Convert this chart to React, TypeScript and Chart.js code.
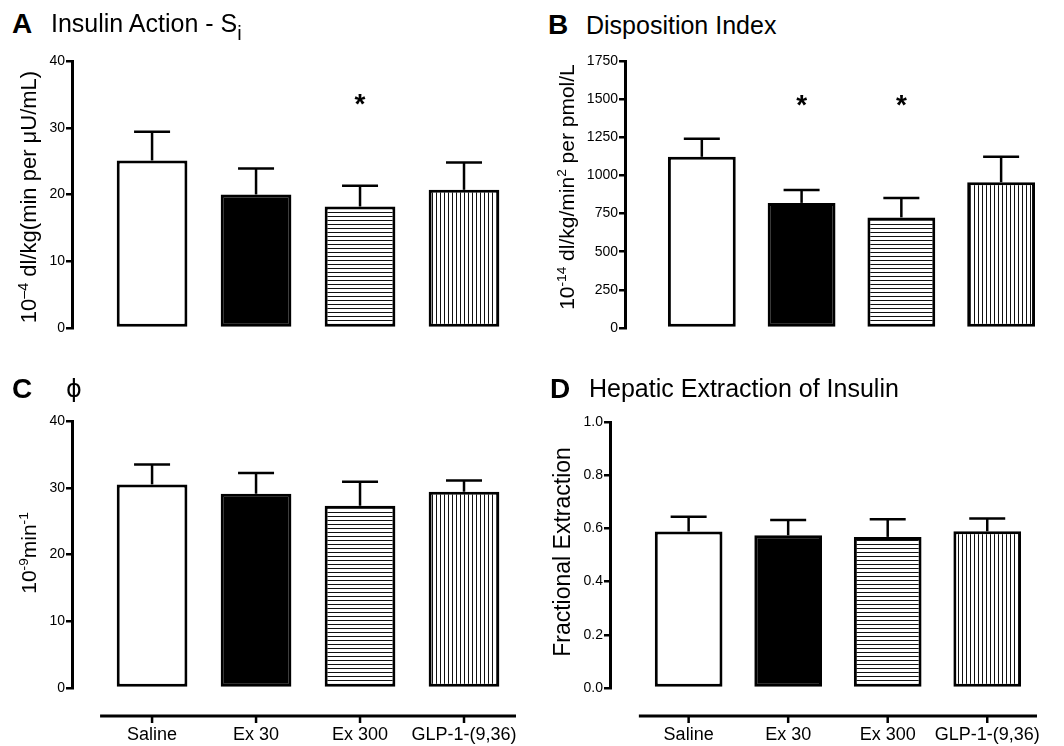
import React, { useEffect, useRef } from 'react';
import { Chart, registerables } from 'chart.js';

Chart.register(...registerables);

const FONT = '"Liberation Sans", Arial, Helvetica, sans-serif';
Chart.defaults.font.family = FONT;
Chart.defaults.color = '#000';

// ---- data ----
const categories = ['Saline', 'Ex 30', 'Ex 300', 'GLP-1-(9,36)'];

const siMean = [25.1, 20.0, 18.2, 20.7];
const siSem = [4.3, 3.9, 3.1, 4.1];
const siStars = [null, null, 34.6, null];

const diMean = [1122, 820, 725, 955];
const diSem = [118, 85, 127, 167];
const diStars = [null, 1510, 1510, null];

const phiMean = [30.5, 29.1, 27.3, 29.4];
const phiSem = [3.0, 3.1, 3.6, 1.7];
const phiStars = [null, null, null, null];

const heMean = [0.588, 0.574, 0.568, 0.589];
const heSem = [0.056, 0.058, 0.066, 0.048];
const heStars = [null, null, null, null];

function makePattern(dir: 'h' | 'v') {
  const c = document.createElement('canvas');
  c.width = 4;
  c.height = 4;
  const g = c.getContext('2d')!;
  g.fillStyle = '#ffffff';
  g.fillRect(0, 0, 4, 4);
  g.fillStyle = '#111111';
  if (dir === 'h') g.fillRect(0, 0, 4, 1);
  else g.fillRect(0, 0, 1, 4);
  const ctx = document.createElement('canvas').getContext('2d')!;
  return ctx.createPattern(c, 'repeat');
}

type PanelProps = {
  left: number;
  top: number;
  width: number;
  height: number;
  yWidth: number;
  padTop: number;
  padRight: number;
  padBottom: number;
  xMin: number;
  yMax: number;
  yStep: number;
  decimals: number;
  means: number[];
  sem: number[];
  stars: (number | null)[];
  showX: boolean;
};

function Panel(p: PanelProps) {
  const ref = useRef<HTMLCanvasElement | null>(null);
  useEffect(() => {
    if (!ref.current) return;
    const decor = {
      id: 'decor',
      afterDatasetsDraw(chart: any) {
        const { ctx, chartArea } = chart;
        const xs = chart.scales.x;
        const ys = chart.scales.y;
        ctx.save();
        ctx.strokeStyle = '#000';
        ctx.fillStyle = '#000';
        p.means.forEach((m, i) => {
          const x = xs.getPixelForValue(i);
          const y0 = ys.getPixelForValue(m);
          const y1 = ys.getPixelForValue(m + p.sem[i]);
          ctx.lineWidth = 2.5;
          ctx.beginPath();
          ctx.moveTo(x, y0);
          ctx.lineTo(x, y1);
          ctx.stroke();
          ctx.beginPath();
          ctx.moveTo(x - 18, y1);
          ctx.lineTo(x + 18, y1);
          ctx.stroke();
        });
        ctx.font = 'bold 28px ' + FONT;
        ctx.textAlign = 'center';
        ctx.textBaseline = 'alphabetic';
        p.stars.forEach((s, i) => {
          if (s == null) return;
          const x = xs.getPixelForValue(i);
          const y = ys.getPixelForValue(s);
          ctx.fillText('*', x, y + 16);
        });
        if (p.showX) {
          const y = chartArea.bottom + 28;
          ctx.lineWidth = 3;
          ctx.beginPath();
          ctx.moveTo(xs.getPixelForValue(-0.5), y);
          ctx.lineTo(xs.getPixelForValue(categories.length - 0.5), y);
          ctx.stroke();
          ctx.lineWidth = 2.5;
          categories.forEach((_, i) => {
            const x = xs.getPixelForValue(i);
            ctx.beginPath();
            ctx.moveTo(x, y);
            ctx.lineTo(x, y + 7);
            ctx.stroke();
          });
        }
        ctx.restore();
      },
    };
    const chart = new Chart(ref.current, {
      type: 'bar',
      data: {
        datasets: [
          {
            data: p.means.map((v, i) => ({ x: i, y: v })),
            backgroundColor: ['#ffffff', '#000000', makePattern('h') as any, makePattern('v') as any],
            borderColor: '#000',
            borderWidth: 3,
            borderSkipped: false,
            categoryPercentage: 0.68,
            barPercentage: 1,
          },
        ],
      },
      options: {
        responsive: false,
        animation: false,
        events: [],
        layout: {
          autoPadding: false,
          padding: { left: 0, top: p.padTop, right: p.padRight, bottom: p.padBottom },
        },
        plugins: { legend: { display: false }, tooltip: { enabled: false }, title: { display: false } },
        scales: {
          x: {
            type: 'linear',
            min: p.xMin,
            max: categories.length - 0.5,
            offset: false,
            display: p.showX,
            afterBuildTicks: (s: any) => {
              s.ticks = categories.map((_, i) => ({ value: i }));
            },
            afterFit: (s: any) => {
              s.height = p.showX ? 58 : 0;
              s.paddingLeft = 0;
              s.paddingRight = 0;
              s.paddingTop = 0;
              s.paddingBottom = 0;
            },
            ticks: {
              autoSkip: false,
              maxRotation: 0,
              minRotation: 0,
              padding: 36,
              color: '#000',
              font: { size: 18, family: FONT },
              callback: (_v: any, idx: number) => categories[idx],
            },
            grid: { display: false, drawTicks: false, offset: false },
            border: { display: false },
          },
          y: {
            type: 'linear',
            min: 0,
            max: p.yMax,
            afterFit: (s: any) => {
              s.width = p.yWidth;
              s.paddingTop = 0;
              s.paddingBottom = 0;
            },
            ticks: {
              stepSize: p.yStep,
              padding: 1,
              color: '#000',
              font: { size: 14, family: FONT },
              callback: (v: any) => Number(v).toFixed(p.decimals),
            },
            grid: { drawOnChartArea: false, drawTicks: true, tickLength: 6, lineWidth: 2.5, color: '#000' },
            border: { display: true, width: 3, color: '#000' },
          },
        },
      } as any,
      plugins: [decor],
    });
    return () => chart.destroy();
  }, []);
  return (
    <canvas
      ref={ref}
      width={p.width}
      height={p.height}
      style={{ position: 'absolute', left: p.left, top: p.top, width: p.width, height: p.height, display: 'block' }}
    />
  );
}

function Txt(props: { left: number; baseline: number; size: number; bold?: boolean; family?: string; children: any }) {
  const { left, baseline, size, bold, family, children } = props;
  return (
    <div
      style={{
        position: 'absolute',
        left,
        top: baseline - 0.8465 * size,
        fontSize: size,
        lineHeight: `${size}px`,
        fontWeight: bold ? 700 : 400,
        fontFamily: family ?? FONT,
        whiteSpace: 'nowrap',
        color: '#000',
      }}
    >
      {children}
    </div>
  );
}

function YTitle(props: { cx: number; cy: number; size: number; children: any }) {
  return (
    <div
      style={{
        position: 'absolute',
        left: props.cx,
        top: props.cy,
        transform: 'translate(-50%, -50%) rotate(-90deg)',
        fontSize: props.size,
        lineHeight: 1,
        fontFamily: FONT,
        whiteSpace: 'nowrap',
        color: '#000',
      }}
    >
      {props.children}
    </div>
  );
}

const supStyle = { fontSize: '0.65em', verticalAlign: '0.55em', lineHeight: 0 } as const;

export default function App() {
  return (
    <div style={{ position: 'absolute', left: 0, top: 0, width: 1064, height: 746, background: '#fff', overflow: 'hidden' }}>
      <Panel left={0} top={40} width={530} height={300} yWidth={72} padTop={21} padRight={14} padBottom={12}
        xMin={-0.77} yMax={40} yStep={10} decimals={0} means={siMean} sem={siSem} stars={siStars} showX={false} />
      <Panel left={530} top={40} width={534} height={300} yWidth={95} padTop={21} padRight={13} padBottom={12}
        xMin={-0.77} yMax={1750} yStep={250} decimals={0} means={diMean} sem={diSem} stars={diStars} showX={false} />
      <Panel left={0} top={400} width={530} height={346} yWidth={72} padTop={21} padRight={14} padBottom={0}
        xMin={-0.77} yMax={40} yStep={10} decimals={0} means={phiMean} sem={phiSem} stars={phiStars} showX={true} />
      <Panel left={530} top={400} width={534} height={346} yWidth={80} padTop={22} padRight={27} padBottom={0}
        xMin={-0.79} yMax={1} yStep={0.2} decimals={1} means={heMean} sem={heSem} stars={heStars} showX={true} />

      <Txt left={12} baseline={34} size={28} bold>A</Txt>
      <Txt left={51} baseline={32.5} size={25}>
        Insulin Action - S<span style={{ fontSize: '0.8em', verticalAlign: '-0.4em', lineHeight: 0 }}>i</span>
      </Txt>
      <Txt left={548} baseline={34.5} size={28} bold>B</Txt>
      <Txt left={586} baseline={34.5} size={25}>Disposition Index</Txt>
      <Txt left={12} baseline={399} size={28} bold>C</Txt>
      <Txt left={66} baseline={397} size={24} family={'"DejaVu Sans", sans-serif'}>ϕ</Txt>
      <Txt left={550} baseline={399} size={28} bold>D</Txt>
      <Txt left={589} baseline={397} size={25}>Hepatic Extraction of Insulin</Txt>

      <YTitle cx={29} cy={197} size={22}>
        10<span style={supStyle}>–4</span> dl/kg(min per μU/mL)
      </YTitle>
      <YTitle cx={566} cy={187} size={21}>
        10<span style={supStyle}>-14</span> dl/kg/min<span style={supStyle}>2</span> per pmol/L
      </YTitle>
      <YTitle cx={28} cy={553} size={21}>
        10<span style={supStyle}>-9</span>min<span style={supStyle}>-1</span>
      </YTitle>
      <YTitle cx={562} cy={552} size={23}>Fractional Extraction</YTitle>
    </div>
  );
}
